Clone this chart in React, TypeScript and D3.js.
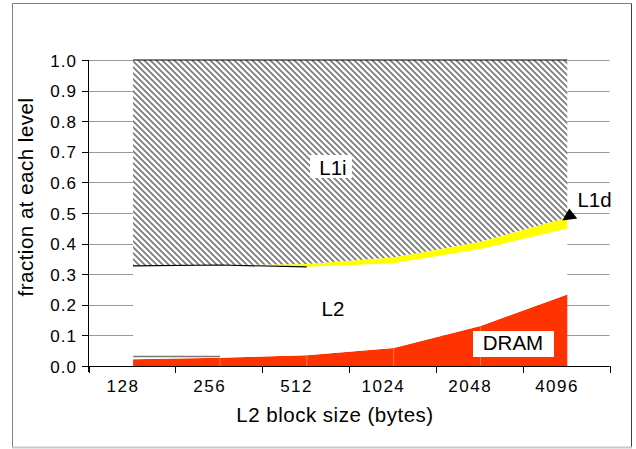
import React from "react";
import * as d3 from "d3";

// L2 block sizes (bytes) and the fraction of accesses served at each level
const categories = ["128", "256", "512", "1024", "2048", "4096"];
const dram = [0.022, 0.027, 0.035, 0.059, 0.131, 0.234];
const l2 = [0.305, 0.303, 0.289, 0.277, 0.251, 0.215];
const l1d = [0.0, 0.0, 0.009, 0.019, 0.024, 0.036];
const l1i = [0.673, 0.67, 0.667, 0.645, 0.594, 0.515];
const dramEdge = [0.031, 0.031];
const yTicks = [0, 0.1, 0.2, 0.3, 0.4, 0.5, 0.6, 0.7, 0.8, 0.9, 1.0];

const W = 636;
const H = 449;
const FONT = "'Liberation Sans', Arial, sans-serif";

export default function App() {
  const rows = categories.map((c, i) => ({
    cat: c,
    DRAM: dram[i],
    L2: l2[i],
    L1d: l1d[i],
    L1i: l1i[i],
  }));
  const keys = ["DRAM", "L2", "L1d", "L1i"];
  const series = d3.stack<any>().keys(keys)(rows);

  const x = d3.scaleBand().domain(categories).range([88.5, 609.5]);
  const y = d3.scaleLinear().domain([0, 1]).range([366, 60]);
  const bw = x.bandwidth();
  const xc = (c: string) => (x(c) as number) + bw / 2 + 1.2;

  const area = d3
    .area<any>()
    .x((d) => xc(d.data.cat))
    .y0((d) => y(d[0]))
    .y1((d) => y(d[1]));
  const line = d3
    .line<any>()
    .x((d) => xc(d.data.cat))
    .y((d) => y(d[1]));

  const fills: Record<string, string> = {
    DRAM: "#ff3300",
    L2: "#ffffff",
    L1d: "#ffff00",
    L1i: "url(#hatch)",
  };

  const topSeries = series[3];
  const l2Series = series[1];
  const edgeLine = d3
    .line<number>()
    .x((_, i) => xc(categories[i]))
    .y((v) => y(v));

  const last = categories[categories.length - 1];
  const ax = xc(last);
  const ay = y(topSeries[topSeries.length - 1][0]);
  const xEdges = categories.map((c) => x(c) as number).concat([609.5]);

  return (
    <svg
      width={W}
      height={H}
      style={{ position: "absolute", left: 0, top: 0, background: "#fff" }}
      fontFamily={FONT}
    >
      <defs>
        <pattern id="hatch" patternUnits="userSpaceOnUse" width={6} height={6}>
          <rect width={6} height={6} fill="#fff" />
          <path
            d="M0,0 L6,6 M-1,5 L1,7 M5,-1 L7,1"
            stroke="#7a7a7a"
            strokeWidth={1.7}
          />
        </pattern>
      </defs>

      {/* outer frame */}
      <line x1={12.5} y1={3.5} x2={631.5} y2={3.5} stroke="#808080" />
      <line x1={12.5} y1={3.5} x2={12.5} y2={447} stroke="#808080" />
      <line x1={631.5} y1={3.5} x2={631.5} y2={447} stroke="#404040" />
      <line x1={12} y1={447.5} x2={632} y2={447.5} stroke="#c8c8c8" strokeWidth={2} />

      {/* gridlines */}
      {yTicks.map((t) => (
        <line
          key={"g" + t}
          x1={88.5}
          x2={609.5}
          y1={Math.round(y(t)) + 0.5}
          y2={Math.round(y(t)) + 0.5}
          stroke="#999"
        />
      ))}

      {/* stacked areas */}
      {series.map((s) => (
        <path key={s.key} d={area(s) as string} fill={fills[s.key]} />
      ))}

      {/* faint segment seams inside DRAM */}
      {series[0].slice(1, -1).map((d: any) => (
        <line
          key={"s" + d.data.cat}
          x1={xc(d.data.cat)}
          x2={xc(d.data.cat)}
          y1={y(d[0])}
          y2={y(d[1])}
          stroke="#ff8a66"
          strokeWidth={0.8}
        />
      ))}

      {/* series borders */}
      <path d={line(topSeries) as string} fill="none" stroke="#000" strokeWidth={1.2} />
      <path
        d={line(l2Series.slice(0, 3)) as string}
        fill="none"
        stroke="#000"
        strokeWidth={1.2}
      />
      <path d={edgeLine(dramEdge) as string} fill="none" stroke="#777" strokeWidth={1.5} />

      {/* y axis */}
      <line x1={88.5} x2={88.5} y1={60} y2={372} stroke="#000" />
      {yTicks.map((t) => (
        <g key={"t" + t}>
          <line
            x1={82}
            x2={88.5}
            y1={Math.round(y(t)) + 0.5}
            y2={Math.round(y(t)) + 0.5}
            stroke="#000"
          />
          <text
            x={77}
            y={y(t) + 6.5}
            textAnchor="end"
            fontSize={17}
            letterSpacing={1}
          >
            {t.toFixed(1)}
          </text>
        </g>
      ))}

      {/* x axis */}
      <line x1={82} x2={609.5} y1={366.5} y2={366.5} stroke="#000" />
      {xEdges.map((e, i) => (
        <line
          key={"xt" + i}
          x1={Math.round(e) + 0.5}
          x2={Math.round(e) + 0.5}
          y1={366}
          y2={373}
          stroke="#000"
        />
      ))}
      {categories.map((c) => (
        <text
          key={"xl" + c}
          x={(x(c) as number) + bw / 2 - 9}
          y={391.5}
          textAnchor="middle"
          fontSize={17}
          letterSpacing={1.5}
        >
          {c}
        </text>
      ))}

      {/* axis titles */}
      <text x={335} y={422} textAnchor="middle" fontSize={20.5} letterSpacing={0.5}>
        L2 block size (bytes)
      </text>
      <text
        transform="translate(33,197) rotate(-90)"
        textAnchor="middle"
        fontSize={20.5}
        letterSpacing={0.5}
      >
        fraction at each level
      </text>

      {/* in-chart labels */}
      <rect x={310} y={155} width={42} height={23} fill="#fff" />
      <text x={333} y={175} textAnchor="middle" fontSize={20.5}>
        L1i
      </text>
      <text x={333} y={316} textAnchor="middle" fontSize={20.5}>
        L2
      </text>
      <rect x={473} y={331} width={81} height={26} fill="#fff" />
      <text x={513} y={350} textAnchor="middle" fontSize={20.5}>
        DRAM
      </text>
      <text x={594.5} y={206.5} textAnchor="middle" fontSize={20.5}>
        L1d
      </text>
      <path
        d={`M${ax - 5},${ay + 3} L${ax + 2},${ay - 9} L${ax + 10},${ay + 1} Z`}
        fill="#000"
      />
    </svg>
  );
}
